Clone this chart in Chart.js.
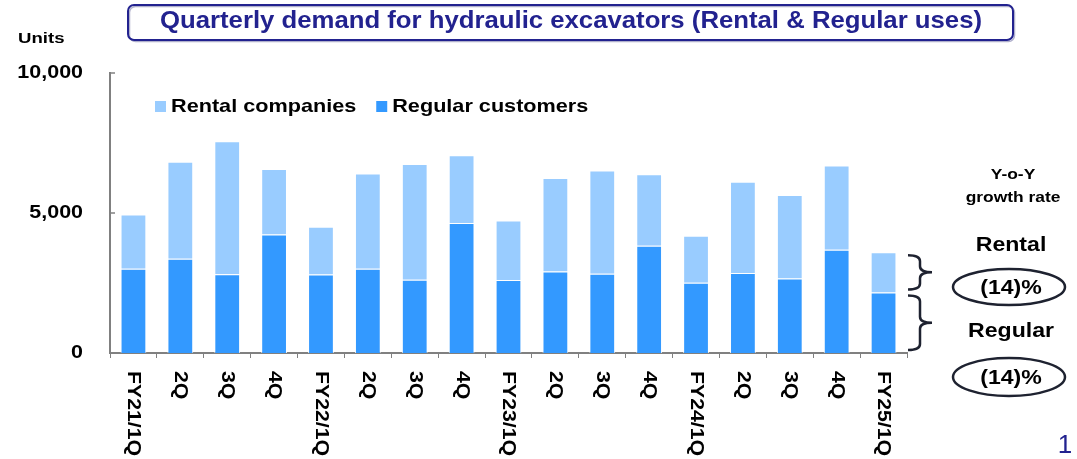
<!DOCTYPE html>
<html>
<head>
<meta charset="utf-8">
<script src="https://cdn.jsdelivr.net/npm/chart.js@4.4.1/dist/chart.umd.min.js"></script>
<style>
html, body { margin:0; padding:0; background:#fff; }
#wrap { width:1077px; height:459px; position:relative; }
</style>
</head>
<body>
<div id="wrap"><canvas id="myChart" width="1077" height="459"></canvas></div>
<script>
const quarters = ['FY21/1Q','2Q','3Q','4Q','FY22/1Q','2Q','3Q','4Q','FY23/1Q','2Q','3Q','4Q','FY24/1Q','2Q','3Q','4Q','FY25/1Q'];
const regular = [3010,3370,2810,4230,2800,3010,2620,4640,2610,2910,2830,3830,2510,2860,2660,3690,2160];
const rental  = [1940,3460,4750,2340,1710,3400,4130,2420,2120,3340,3690,2550,1680,3260,2980,3010,1440];
const yTicks = [0, 5000, 10000];
const chartTitle = 'Quarterly demand for hydraulic excavators (Rental & Regular uses)';
const yoyRental = '(14)%', yoyRegular = '(14)%';

const FONT = '"Liberation Sans", Arial, sans-serif';
const NAVY = '#22228f';

// text with a bit of horizontal stretch, like the original slide
function txt(c, s, x, y, size, sx, align, color, weight) {
  c.save();
  c.font = (weight || 'bold') + ' ' + size + 'px ' + FONT;
  c.fillStyle = color || '#000';
  c.textBaseline = 'middle';
  c.textAlign = 'left';
  let w = c.measureText(s).width * sx;
  let x0 = align === 'center' ? x - w / 2 : (align === 'right' ? x - w : x);
  c.translate(x0, y);
  c.scale(sx, 1);
  c.fillText(s, 0, 0);
  c.restore();
  return w;
}

function brace(c, x, y1, y2) {
  const ym = (y1 + y2) / 2, r = 6;
  c.beginPath();
  c.moveTo(x - 12, y1);
  c.quadraticCurveTo(x, y1, x, y1 + r);
  c.lineTo(x, ym - r);
  c.quadraticCurveTo(x, ym, x + 12, ym);
  c.quadraticCurveTo(x, ym, x, ym + r);
  c.lineTo(x, y2 - r);
  c.quadraticCurveTo(x, y2, x - 12, y2);
  c.stroke();
}

const decor = {
  id: 'decor',
  afterDraw(chart) {
    const c = chart.ctx, xs = chart.scales.x, ys = chart.scales.y;

    // title box
    c.save();
    c.strokeStyle = '#b0b0cc';
    c.lineWidth = 1.5;
    c.beginPath(); c.roundRect(129.5, 6.5, 885, 35, 6); c.stroke();
    c.strokeStyle = NAVY;
    c.lineWidth = 2;
    c.beginPath(); c.roundRect(128, 5, 885, 35, 6); c.stroke();
    c.restore();
    c.save();
    c.font = 'bold 24px ' + FONT;
    let tw = c.measureText(chartTitle).width;
    c.restore();
    txt(c, chartTitle, 571, 21, 24, 822 / tw, 'center', NAVY);

    txt(c, 'Units', 18, 39, 15.5, 1.2, 'left');

    // y labels + small inward ticks
    c.save();
    c.strokeStyle = '#808080';
    c.lineWidth = 1.5;
    ys.ticks.forEach(t => {
      const py = ys.getPixelForValue(t.value);
      txt(c, t.value.toLocaleString('en-US'), 83, py, 18.5, 1.16, 'right');
      if (t.value > 0) {
        c.beginPath(); c.moveTo(xs.left, py); c.lineTo(xs.left + 5, py); c.stroke();
      }
    });
    c.restore();

    // x labels, rotated clockwise
    quarters.forEach((q, i) => {
      const px = xs.getPixelForValue(i);
      c.save();
      c.translate(px, 371);
      c.rotate(Math.PI / 2);
      txt(c, q, 0, 0, 18.5, 1.15, 'left');
      c.restore();
    });

    // legend inside plot: rental first
    const ds = chart.data.datasets;
    let lx = 155;
    [1, 0].forEach(k => {
      c.fillStyle = ds[k].backgroundColor;
      c.fillRect(lx, 101, 11, 11);
      const w = txt(c, ds[k].label, lx + 16, 107, 18.5, 1.17, 'left');
      lx = lx + 16 + w + 20;
    });

    // braces next to the last bar
    const last = quarters.length - 1;
    const yTop = ys.getPixelForValue(regular[last] + rental[last]);
    const yMid = ys.getPixelForValue(regular[last]);
    const yBot = ys.getPixelForValue(0);
    c.save();
    c.strokeStyle = '#1e2230';
    c.lineWidth = 2.5;
    brace(c, 920, yTop + 3, yMid - 3);
    brace(c, 920, yMid + 3, yBot - 3);
    c.restore();

    txt(c, 'Y-o-Y', 1013, 175, 14.5, 1.2, 'center');
    txt(c, 'growth rate', 1013, 198, 14.5, 1.2, 'center');
    txt(c, 'Rental', 1011, 245, 21, 1.1, 'center');
    txt(c, 'Regular', 1011, 331, 21, 1.1, 'center');
    c.save();
    c.strokeStyle = '#1e2230';
    c.lineWidth = 2.5;
    c.beginPath(); c.ellipse(1009, 287, 56, 18, 0, 0, Math.PI * 2); c.stroke();
    c.beginPath(); c.ellipse(1009, 377, 56, 19, 0, 0, Math.PI * 2); c.stroke();
    c.restore();
    txt(c, yoyRental, 1011, 288, 21, 1.1, 'center');
    txt(c, yoyRegular, 1011, 378, 21, 1.1, 'center');

    txt(c, '1', 1065, 446, 26, 1.0, 'center', NAVY, 'normal');
  }
};

const ctx = document.getElementById('myChart');

var chart = new Chart(ctx, {
  type: 'bar',
  data: {
    labels: quarters,
    datasets: [{
        label: 'Regular customers',
        data: regular,
        backgroundColor: '#3399ff',
        borderColor: 'rgba(255,255,255,0.85)',
        borderWidth: 1,
        barPercentage: 0.55,
        categoryPercentage: 1
    }, {
        label: 'Rental companies',
        data: rental,
        backgroundColor: '#99ccff',
        borderColor: 'rgba(255,255,255,0.85)',
        borderWidth: 1,
        barPercentage: 0.55,
        categoryPercentage: 1
    }]
  },
  options: {
    responsive: false,
    animation: false,
    layout: { padding: { top: 73, right: 170, left: 0, bottom: 0 } },
    plugins: {
      legend: { display: false },
      title: { display: false },
      tooltip: { enabled: false }
    },
    scales: {
      x: {
        stacked: true,
        offset: true,
        ticks: { display: false },
        grid: { display: true, drawOnChartArea: false, drawTicks: true, tickLength: 5, color: '#808080', lineWidth: 1 },
        border: { display: true, color: '#808080', width: 2 },
        afterFit: s => { s.height = 106; }
      },
      y: {
        stacked: true,
        min: 0,
        max: 10000,
        afterBuildTicks: s => { s.ticks = yTicks.map(v => ({ value: v })); },
        ticks: { display: false },
        grid: { display: false },
        border: { display: true, color: '#808080', width: 2 },
        afterFit: s => { s.width = 110; }
      }
    }
  },
  plugins: [decor]
});
</script>
</body>
</html>
